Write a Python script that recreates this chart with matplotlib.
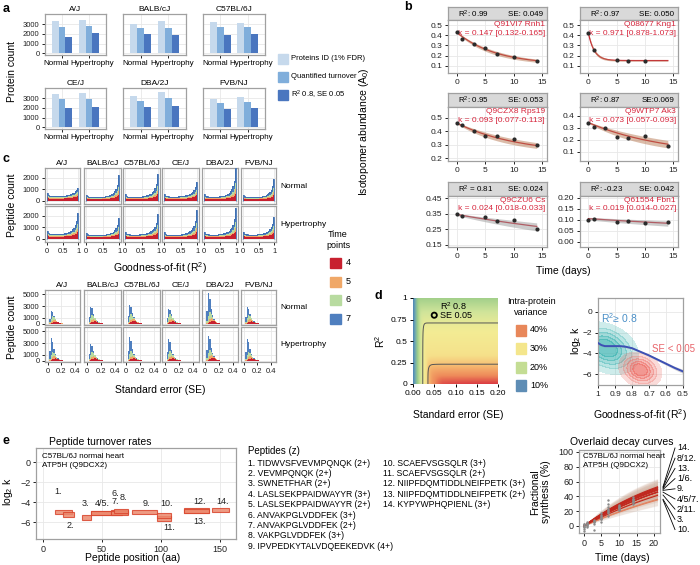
import numpy as np
import matplotlib
matplotlib.use('Agg')
import matplotlib.pyplot as plt
from matplotlib.colors import LinearSegmentedColormap, to_rgba
from matplotlib.patches import Rectangle
from matplotlib.lines import Line2D

plt.rcParams['font.family'] = ['Liberation Sans', 'DejaVu Sans']
plt.rcParams['mathtext.default'] = 'regular'

# ======================= DATA =======================
strains = ['A/J', 'BALB/cJ', 'C57BL/6J', 'CE/J', 'DBA/2J', 'FVB/NJ']
conditions = ['Normal', 'Hypertrophy']

# ---- a: protein counts [strain][condition]
proteins_id = [[3300, 3400], [3050, 3300], [3200, 3100], [3450, 3500], [3200, 3600], [2900, 3100]]
quantified_turnover = [[2700, 2850], [2600, 2650], [2700, 2700], [2900, 2900], [2750, 3000], [2550, 2650]]
filtered_r2_se = [[1700, 2050], [1950, 1900], [1900, 2000], [2000, 2050], [2100, 2150], [1900, 1950]]
a_series_labels = ['Proteins ID (1% FDR)', 'Quantified turnover', 'R$^2$ 0.8, SE 0.05']

# ---- b: example decay fits
b_protein = ['Q91VI7 Rnh1', 'Q08677 Kng1', 'Q9CZX8 Rps19', 'Q9WTP7 Ak3', 'Q9CZU6 Cs', 'Q61554 Fbn1']
b_r2_text = ['R$^2$: 0.99', 'R$^2$: 0.97', 'R$^2$: 0.95', 'R$^2$: 0.87', 'R$^2$ = 0.81', 'R$^2$: -0.23']
b_se_text = ['SE: 0.049', 'SE: 0.050', 'SE: 0.053', 'SE:0.069', 'SE: 0.024', 'SE: 0.042']
b_k = [0.147, 0.971, 0.093, 0.073, 0.024, 0.019]
b_k_lo = [0.132, 0.878, 0.077, 0.057, 0.018, 0.014]
b_k_hi = [0.165, 1.073, 0.113, 0.093, 0.033, 0.027]
b_a0 = [0.43, 0.418, 0.46, 0.345, 0.345, 0.106]
b_plateau = [0.11, 0.152, 0.23, 0.064, 0.077, 0.016]
b_times = [[0, 1, 3, 5, 7, 10, 14], [0, 1, 5, 7, 10], [0, 1, 3, 5, 7, 10, 14],
           [0, 1, 3, 5, 7, 10, 14], [0, 1, 5, 7, 10, 14], [0, 1, 5, 7, 10, 14]]
b_values = [[0.43, 0.365, 0.31, 0.277, 0.215, 0.19, 0.146],
            [0.418, 0.255, 0.162, 0.152, 0.152],
            [0.46, 0.445, 0.40, 0.36, 0.365, 0.34, 0.295],
            [0.344, 0.31, 0.297, 0.228, 0.214, 0.236, 0.153],
            [0.348, 0.337, 0.326, 0.30, 0.307, 0.25],
            [0.102, 0.103, 0.092, 0.096, 0.088, 0.092]]
b_ylims = [(0.03, 0.55), (0.03, 0.55), (0.178, 0.578), (0.025, 0.475), (0.137, 0.463), (-0.023, 0.209)]
b_yticks = [[0.1, 0.2, 0.3, 0.4, 0.5], [0.1, 0.2, 0.3, 0.4, 0.5], [0.2, 0.3, 0.4, 0.5],
            [0.1, 0.2, 0.3, 0.4], [0.15, 0.25, 0.35, 0.45], [0.0, 0.05, 0.10, 0.15, 0.20]]

# ---- c: peptide count histograms (time points 4,5,6,7)
time_points = ['4', '5', '6', '7']
r2_base_profile = [1.6, 1.2, 1.05, 1.0, 0.98, 0.97, 0.97, 0.97, 0.98, 0.98, 0.99, 1.0, 1.02,
                   1.04, 1.07, 1.1, 1.14, 1.2, 1.26, 1.34, 1.44, 1.56, 1.7, 1.85, 1.9]
r2_rise_profile = [0, 0, 0, 0, 0, 0, 0, 0, 0, 0, 0, 0, 0.01, 0.015, 0.02, 0.03, 0.04, 0.055,
                   0.075, 0.1, 0.14, 0.2, 0.3, 0.5, 1.0]
r2_layer_base_frac = [0.45, 0.15, 0.15, 0.25]
r2_layer_rise_frac = [0.15, 0.12, 0.2, 0.53]
r2_baseline = [[420, 330, 350, 380, 360, 320], [420, 320, 380, 350, 380, 380]]
r2_peak = [[1150, 2250, 2350, 1650, 2850, 1950], [2300, 1800, 2150, 2550, 2700, 1950]]

se_profile_4 = [0, 0.1, 0.3, 0.6, 0.9, 1.0, 0.85, 0.65, 0.45, 0.3, 0.2, 0.12, 0.08, 0.05,
                0.03, 0.02, 0.01, 0, 0, 0, 0, 0, 0, 0, 0]
se_profile_5 = [0, 0.15, 0.5, 0.9, 1.0, 0.65, 0.35, 0.18, 0.08, 0.04, 0.02, 0.01, 0, 0, 0,
                0, 0, 0, 0, 0, 0, 0, 0, 0, 0]
se_profile_6 = [0, 0.3, 0.8, 1.0, 0.55, 0.25, 0.1, 0.04, 0.02, 0.01, 0, 0, 0, 0, 0, 0, 0,
                0, 0, 0, 0, 0, 0, 0, 0]
se_profile_7 = [0, 0.45, 1.0, 0.6, 0.22, 0.08, 0.03, 0.01, 0, 0, 0, 0, 0, 0, 0, 0, 0, 0,
                0, 0, 0, 0, 0, 0, 0]
se_layer_peaks = [
    [[400, 350, 700, 1300], [450, 400, 900, 1800], [500, 450, 900, 2000],
     [450, 400, 1000, 1300], [500, 500, 1200, 3800], [450, 400, 900, 1700]],
    [[450, 400, 900, 2800], [450, 400, 900, 1700], [450, 400, 1000, 2800],
     [450, 400, 1000, 2500], [500, 500, 1100, 2900], [450, 450, 900, 2600]]]

# ---- d: intra-protein variance surface profiles
var_se_pts = [0, 0.004, 0.008, 0.013, 0.018, 0.023, 0.029, 0.035, 0.045, 0.07, 0.2]
var_se_profile = [8, 11, 15, 19.5, 23.5, 26.5, 31, 35.5, 39, 44, 50]
var_r2_pts = [0, 0.1, 0.23, 0.4, 0.6, 0.71, 0.85, 1.0]
var_r2_profile = [44, 40, 35.5, 31.5, 28.5, 26.5, 22.5, 18]
var_legend = ['40%', '30%', '20%', '10%']

trend_r2 = [1.0, 0.98, 0.96, 0.93, 0.9, 0.87, 0.84, 0.8, 0.75, 0.7, 0.65, 0.6, 0.55, 0.5]
trend_log2k = [-3.0, -3.2, -3.3, -3.3, -3.3, -3.3, -3.35, -3.5, -3.85, -4.2, -4.6, -5.0, -5.4, -5.75]
trend_ci = [0.15, 0.1, 0.08, 0.08, 0.08, 0.08, 0.08, 0.08, 0.09, 0.1, 0.12, 0.14, 0.16, 0.2]
# density clusters: (centre R2, centre log2k, sd R2, sd log2k, rho)
cluster_r2_high = (0.95, -3.5, 0.075, 1.0, 0.3)
cluster_se_low = (0.752, -5.6, 0.05, 0.68, 0.2)

# ---- e: ATP5H peptides
pep_start = [10, 17, 33, 41, 41, 58, 58, 60, 76, 97, 97, 120, 120, 144]
pep_end = [25, 26, 41, 67, 67, 72, 72, 72, 97, 109, 109, 141, 141, 158]
pep_log2k = [-4.95, -5.25, -5.55, -5.1, -5.1, -4.95, -5.1, -4.85, -5.0, -5.6, -5.3, -4.85, -4.9, -4.8]
pep_half = [0.2, 0.22, 0.25, 0.2, 0.2, 0.2, 0.2, 0.2, 0.2, 0.25, 0.25, 0.22, 0.22, 0.2]
pep_log2k_ci = [0.45] * 14
pep_names = ['TIDWVSFVEVMPQNQK (2+)', 'VEVMPQNQK (2+)', 'SWNETFHAR (2+)',
             'LASLSEKPPAIDWAYYR (3+)', 'LASLSEKPPAIDWAYYR (2+)', 'ANVAKPGLVDDFEK (3+)',
             'ANVAKPGLVDDFEK (2+)', 'VAKPGLVDDFEK (3+)', 'IPVPEDKYTALVDQEEKEDVK (4+)',
             'SCAEFVSGSQLR (3+)', 'SCAEFVSGSQLR (2+)', 'NIIPFDQMTIDDLNEIFPETK (3+)',
             'NIIPFDQMTIDDLNEIFPETK (2+)', 'KYPYWPHQPIENL (3+)']
pep_label_text = ['1.', '2.', '3.', '4/5.', '6.', '7.', '8.', '9.', '10.', '11.', '12.', '13.', '14.']
pep_label_x = [13, 23, 36, 50, 61, 61, 68, 88, 105, 107, 133, 133, 153]
pep_label_y = [-3.0, -6.3, -4.2, -4.2, -3.1, -4.0, -3.6, -4.1, -4.1, -6.5, -3.9, -6.0, -3.9]
fan_groups = ['14.', '8/12.', '13.', '1/6.', '9.', '4/5/7.', '2/11.', '3.', '10.']
fan_members = [[13], [7, 11], [12], [0, 5], [8], [3, 4, 6], [1, 10], [2], [9]]
obs_t = [0] * 8 + [1] * 8 + [3] * 6 + [5] * 8 + [7] * 9 + [10] * 8 + [14] * 8
obs_fs = [-7, -4, -2, -1, 0, 1, 2, 3,
          0, 1, 2, 3, 4, 5, -1, 2,
          -5, 3, 5, 6, 7, 8,
          6, 9, 11, 13, 15, 17, 10, 12,
          14, 17, 20, 23, 26, 30, 35, 19, 22,
          21, 23, 25, 27, 29, 24, 26, 22,
          30, 33, 35, 37, 39, 36, 34, 32]

# ======================= LAYOUT HELPERS =======================
W, H = 700, 565
fig = plt.figure(figsize=(7, 5.65), dpi=100)


def add_ax(x0, y0, x1, y1):
    return fig.add_axes([x0 / W, 1 - y1 / H, (x1 - x0) / W, (y1 - y0) / H])


def ftext(x, y, s, **kw):
    kw.setdefault('fontsize', 7)
    kw.setdefault('ha', 'center')
    kw.setdefault('va', 'center')
    fig.text(x / W, 1 - y / H, s, **kw)


def style_ax(ax, fs=5.5):
    ax.set_facecolor('white')
    for s in ax.spines.values():
        s.set_color('#a0a0a0')
        s.set_linewidth(0.9)
    ax.grid(True, color='#e8e8e8', lw=0.6)
    ax.set_axisbelow(True)
    ax.tick_params(axis='both', length=2.5, width=0.7, colors='#222222', labelsize=fs, pad=1.5)


TP_COLORS = ['#c8202f', '#f0a868', '#b8dba0', '#4f7fbf']

# ======================= PANEL A =======================
a_cols = [(45, 106), (123, 186), (203, 265)]
a_rows = [(14, 55), (88, 129)]
a_colors = ['#c6d9ec', '#80aedb', '#4a76bf']
a_series = [proteins_id, quantified_turnover, filtered_r2_se]
for i, s in enumerate(strains):
    r, c = divmod(i, 3)
    ax = add_ax(a_cols[c][0], a_rows[r][0], a_cols[c][1], a_rows[r][1])
    style_ax(ax)
    xs = np.arange(1, 3)
    for j, (series, col) in enumerate(zip(a_series, a_colors)):
        ax.bar(xs + (j - 1) * 0.25, series[i], width=0.25, color=col, zorder=2)
    ax.set_xlim(0.36, 2.64)
    ax.set_ylim(-180, 4050)
    ax.set_yticks([0, 1000, 2000, 3000])
    if c != 0:
        ax.tick_params(axis='y', left=False, labelleft=False)
    ax.set_xticks([1, 2])
    ax.set_xticklabels([])
    ax.text(0.19, -0.2, conditions[0], transform=ax.transAxes, ha='center', va='center', fontsize=5.8)
    ax.text(0.78, -0.2, conditions[1], transform=ax.transAxes, ha='center', va='center', fontsize=5.8)
    ax.set_title(s, fontsize=6, pad=2)
ftext(12, 72, 'Protein count', rotation=90, fontsize=7.5)
for j, (lab, col) in enumerate(zip(a_series_labels, a_colors)):
    yc = 59 + j * 18
    fig.patches.append(Rectangle((278 / W, 1 - (yc + 5) / H), 10 / W, 10 / H,
                                 transform=fig.transFigure, color=col, figure=fig))
    ftext(291, yc, lab, ha='left', fontsize=5.5)

# ======================= PANEL B =======================
b_cols = [(448, 547), (580, 678)]
b_rows = [(7, 20, 73), (93, 107, 161), (182, 196, 247)]
b_ribbon = ['#b87a55', '#b87a55', '#b87a55', '#b87a55', '#9a9a9a', '#9a9a9a']
for i in range(6):
    r, c = divmod(i, 2)
    sy0, ay0, ay1 = b_rows[r]
    x0, x1 = b_cols[c]
    sax = add_ax(x0, sy0, x1, ay0)
    sax.set_facecolor('#d9d9d9')
    sax.set_xticks([])
    sax.set_yticks([])
    for sp in sax.spines.values():
        sp.set_color('#a0a0a0')
        sp.set_linewidth(0.9)
    sax.text(0.1, 0.45, b_r2_text[i], transform=sax.transAxes, fontsize=5.8, va='center', ha='left')
    sax.text(0.96, 0.45, b_se_text[i], transform=sax.transAxes, fontsize=5.8, va='center', ha='right')
    ax = add_ax(x0, ay0, x1, ay1)
    style_ax(ax, fs=6)
    tt = np.linspace(0, 14, 200)
    curve = b_plateau[i] + (b_a0[i] - b_plateau[i]) * np.exp(-b_k[i] * tt)
    lo = b_plateau[i] + (b_a0[i] - b_plateau[i]) * np.exp(-b_k_hi[i] * tt)
    hi = b_plateau[i] + (b_a0[i] - b_plateau[i]) * np.exp(-b_k_lo[i] * tt)
    ax.plot(tt, curve, color='#c8202f', lw=0.9, zorder=3)
    ax.fill_between(tt, lo - 0.006, hi + 0.006, color=b_ribbon[i], alpha=0.5, lw=0, zorder=4)
    ax.scatter(b_times[i], b_values[i], s=9, color='#2b2b2b', zorder=5, lw=0)
    ax.set_xlim(-1.5, 15.8)
    ax.set_xticks([0, 5, 10, 15])
    ax.set_ylim(*b_ylims[i])
    ax.set_yticks(b_yticks[i])
    if i == 5:
        ax.set_yticklabels(['0.00', '0.05', '0.10', '0.15', '0.20'])
    elif i == 4:
        ax.set_yticklabels(['0.15', '0.25', '0.35', '0.45'])
    ax.text(0.98, 0.92, b_protein[i], transform=ax.transAxes, ha='right', va='center',
            fontsize=6, color='#d7263d')
    ax.text(0.98, 0.75, 'k = %.3f [%.3f-%.3f]' % (b_k[i], b_k_lo[i], b_k_hi[i]),
            transform=ax.transAxes, ha='right', va='center', fontsize=6, color='#d7263d')
ftext(364, 132, 'Isotopomer abundance (A$_0$)', rotation=90, fontsize=7.5)
ftext(563, 271, 'Time (days)', fontsize=7.5)

# ======================= PANEL C =======================
c_cols = [(45, 80), (84, 121), (123, 160), (162, 199), (202, 238), (241, 276)]
c_rows_r2 = [(168, 204), (206, 242)]
c_rows_se = [(290, 325), (327, 362)]
r2_edges = np.linspace(0, 1, 26)
se_edges = np.linspace(0, 0.5, 26)
se_profiles = [se_profile_4, se_profile_5, se_profile_6, se_profile_7]
for ci, cond in enumerate(conditions):
    for si, s in enumerate(strains):
        # R2 histogram
        ax = add_ax(c_cols[si][0], c_rows_r2[ci][0], c_cols[si][1], c_rows_r2[ci][1])
        style_ax(ax)
        base = r2_baseline[ci][si]
        rise = r2_peak[ci][si] - base * r2_base_profile[-1]
        cum = np.zeros(25)
        for L in range(4):
            layer = (base * np.array(r2_base_profile) * r2_layer_base_frac[L]
                     + rise * np.array(r2_rise_profile) * r2_layer_rise_frac[L])
            ax.stairs(cum + layer, r2_edges, baseline=cum.copy(), fill=True,
                      color=TP_COLORS[L], lw=0, zorder=2)
            cum = cum + layer
        ax.stairs(cum, r2_edges, color='#3d6fb3', lw=0.6, zorder=3)
        ax.set_xlim(-0.05, 1.05)
        ax.set_ylim(-280, 2870)
        ax.set_xticks([0, 0.5, 1])
        ax.set_xticklabels(['0', '0.5', '1'])
        ax.set_yticks([0, 1000, 2000])
        if si != 0:
            ax.tick_params(axis='y', left=False, labelleft=False)
        if ci == 0:
            ax.tick_params(axis='x', bottom=False, labelbottom=False)
            ax.set_title(s, fontsize=6, pad=2)
        # SE histogram
        ax = add_ax(c_cols[si][0], c_rows_se[ci][0], c_cols[si][1], c_rows_se[ci][1])
        style_ax(ax)
        cum = np.zeros(25)
        for L in range(4):
            layer = np.array(se_profiles[L]) * se_layer_peaks[ci][si][L]
            ax.stairs(cum + layer, se_edges, baseline=cum.copy(), fill=True,
                      color=TP_COLORS[L], lw=0, zorder=2)
            cum = cum + layer
        ax.set_xlim(-0.045, 0.48)
        ax.set_ylim(-170, 5670)
        ax.set_xticks([0, 0.2, 0.4])
        ax.set_xticklabels(['0', '0.2', '0.4'])
        ax.set_yticks([0, 1000, 3000, 5000])
        if si != 0:
            ax.tick_params(axis='y', left=False, labelleft=False)
        if ci == 0:
            ax.tick_params(axis='x', bottom=False, labelbottom=False)
            ax.set_title(s, fontsize=6, pad=2)
    ftext(280, (c_rows_r2[ci][0] + c_rows_r2[ci][1]) / 2, cond, ha='left', fontsize=6)
    ftext(280, (c_rows_se[ci][0] + c_rows_se[ci][1]) / 2, cond, ha='left', fontsize=6)
ftext(12, 205, 'Peptide count', rotation=90, fontsize=7.5)
ftext(12, 327, 'Peptide count', rotation=90, fontsize=7.5)
ftext(160, 268, 'Goodness-of-fit (R$^2$)', fontsize=7.5)
ftext(160, 390, 'Standard error (SE)', fontsize=7.5)
ftext(338, 240, 'Time\npoints', fontsize=6.5, linespacing=1.3)
for L, tp in enumerate(time_points):
    yc = 263 + L * 18.5
    fig.patches.append(Rectangle((330 / W, 1 - (yc + 5) / H), 11 / W, 10 / H,
                                 transform=fig.transFigure, color=TP_COLORS[L], figure=fig))
    ftext(346, yc, tp, ha='left', fontsize=6.5)

# ======================= PANEL D =======================
ax = add_ax(413, 298, 498, 384)
sg = np.linspace(0, 0.2, 300)
rg = np.linspace(0, 1, 300)
fse = np.interp(sg, var_se_pts, var_se_profile)
gr2 = np.interp(rg, var_r2_pts, var_r2_profile)
F, G = np.meshgrid(fse, gr2)
sm = 1.5
V = -sm * np.log(np.exp(-F / sm) + np.exp(-G / sm))
var_cmap = LinearSegmentedColormap.from_list('var', [
    (0.0, '#4e86b8'), (0.1, '#6fa9b0'), (0.25, '#9ccd88'), (0.4, '#d0e49a'),
    (0.55, '#f3ec94'), (0.68, '#f6e08a'), (0.77, '#f5b56e'), (0.87, '#ee8a5a'),
    (1.0, '#d5263c')])
ax.imshow(V, extent=[0, 0.2, 0, 1], origin='lower', aspect='auto', cmap=var_cmap,
          vmin=8, vmax=45, interpolation='bilinear')
ax.contour(sg, rg, V, levels=[26.5, 35.5], colors='#555555', linewidths=0.7)
for sp in ax.spines.values():
    sp.set_visible(False)
ax.tick_params(length=2.5, width=0.7, labelsize=6, pad=1.5)
ax.set_xticks([0, 0.05, 0.1, 0.15, 0.2])
ax.set_xticklabels(['0.00', '0.05', '0.10', '0.15', '0.20'])
ax.set_yticks([0, 0.25, 0.5, 0.75, 1])
ax.set_yticklabels(['0', '0.25', '0.5', '0.75', '1'])
ax.set_xlim(0, 0.2)
ax.set_ylim(0, 1)
ax.scatter([0.05], [0.8], s=14, facecolor='none', edgecolor='black', lw=1.3, zorder=5)
ax.text(0.063, 0.91, 'R$^2$ 0.8', fontsize=6.5, va='center', ha='left')
ax.text(0.063, 0.8, 'SE 0.05', fontsize=6.5, va='center', ha='left')
ftext(380, 341, 'R$^2$', rotation=90, fontsize=7.5)
ftext(458, 415, 'Standard error (SE)', fontsize=7.5)
ftext(531, 307, 'Intra-protein\nvariance', fontsize=6.5, linespacing=1.3)
leg_cols = ['#e8875a', '#f4e68c', '#c4dd94', '#5e8db5']
for j, (lab, col) in enumerate(zip(var_legend, leg_cols)):
    yc = 330 + j * 18.5
    fig.patches.append(Rectangle((516 / W, 1 - (yc + 5.5) / H), 10 / W, 11 / H,
                                 transform=fig.transFigure, color=col, figure=fig))
    ftext(530, yc, lab, ha='left', fontsize=6.5)

ax = add_ax(598, 298, 683, 385)
style_ax(ax, fs=6)
xg = np.linspace(0.5, 1.0, 250)
yg = np.linspace(-7.1, 1.4, 250)
XX, YY = np.meshgrid(xg, yg)
for (cx, cy, sx, sy, rho), col in zip([cluster_r2_high, cluster_se_low], ['#3fb5b3', '#ee7068']):
    zx = (XX - cx) / sx
    zy = (YY - cy) / sy
    Z = np.exp(-0.5 * (zx ** 2 - 2 * rho * zx * zy + zy ** 2) / (1 - rho ** 2))
    levels = [0.04, 0.15, 0.3, 0.5, 0.7, 1.01]
    cols = [to_rgba(col, a) for a in [0.25, 0.36, 0.48, 0.6, 0.72]]
    ax.contourf(XX, YY, Z, levels=levels, colors=cols, zorder=2)
tr = np.array(trend_r2)
tk = np.array(trend_log2k)
tc = np.array(trend_ci)
ax.fill_between(tr, tk - tc, tk + tc, color='#999999', alpha=0.4, lw=0, zorder=3)
ax.plot(tr, tk, color='#3d50b5', lw=1.4, zorder=4)
ax.set_xlim(1.0, 0.5)
ax.set_ylim(-7.06, 1.35)
ax.set_xticks([1, 0.9, 0.8, 0.7, 0.6, 0.5])
ax.set_xticklabels(['1', '0.9', '0.8', '0.7', '0.6', '0.5'])
ax.set_yticks([0, -2, -4, -6])
ax.set_yticklabels(['0', '\u22122', '\u22124', '\u22126'])
ax.text(0.985, -0.55, 'R$^2$\u2265 0.8', color='#4a8fc7', fontsize=7.5, ha='left', va='center')
ax.text(0.685, -3.55, 'SE < 0.05', color='#e8646a', fontsize=7, ha='left', va='center',
        clip_on=False)
ftext(576, 341, 'log$_2$ k', rotation=90, fontsize=7.5)
ftext(640, 415, 'Goodness-of-fit (R$^2$)', fontsize=7.5)

# ======================= PANEL E =======================
ax = add_ax(36, 448, 236, 539)
style_ax(ax, fs=6.5)
for i in range(14):
    ax.add_patch(Rectangle((pep_start[i], pep_log2k[i] - pep_half[i]),
                           pep_end[i] - pep_start[i], 2 * pep_half[i],
                           facecolor='#ec8a6e', edgecolor='#d9462e', lw=0.8, alpha=0.85, zorder=3))
for t, x, y in zip(pep_label_text, pep_label_x, pep_label_y):
    ax.text(x, y, t, fontsize=6.5, ha='center', va='center', color='#222222')
ax.set_xlim(-6, 164)
ax.set_ylim(-7.7, 1.4)
ax.set_xticks([0, 50, 100, 150])
ax.set_yticks([0, -2, -4, -6])
ax.set_yticklabels(['0', '\u22122', '\u22124', '\u22126'])
ax.text(0.03, 0.95, 'C57BL/6J normal heart\nATP5H (Q9DCX2)', transform=ax.transAxes,
        fontsize=5.8, ha='left', va='top', linespacing=1.4)
ftext(100, 442, 'Peptide turnover rates', fontsize=7.5)
ftext(8, 492, 'log$_2$ k', rotation=90, fontsize=7.5)
ftext(133, 558, 'Peptide position (aa)', fontsize=7.5)

ftext(248, 451, 'Peptides (z)', ha='left', fontsize=7)
for i, name in enumerate(pep_names):
    if i < 9:
        ftext(248, 463 + i * 10.4, '%d. %s' % (i + 1, name), ha='left', fontsize=6.2)
    else:
        ftext(383, 463 + (i - 9) * 10.4, '%d. %s' % (i + 1, name), ha='left', fontsize=6.2)

ax = add_ax(579, 450, 660, 533)
style_ax(ax, fs=6.5)
tt = np.linspace(0, 21, 200)
for i in range(14):
    klo = 2.0 ** (pep_log2k[i] - pep_log2k_ci[i])
    khi = 2.0 ** (pep_log2k[i] + pep_log2k_ci[i])
    ax.fill_between(tt, 100 * (1 - np.exp(-klo * tt)), 100 * (1 - np.exp(-khi * tt)),
                    color='#cfae9c', alpha=0.18, lw=0, zorder=2)
for i in range(14):
    k = 2.0 ** pep_log2k[i]
    col = '#e38462' if i in (1, 2, 9) else '#c0281e'
    ax.plot(tt, 100 * (1 - np.exp(-k * tt)), color=col, lw=0.8, zorder=3)
ax.scatter(obs_t, obs_fs, s=3, color='#8a8a8a', zorder=4, lw=0)
ax.set_xlim(-1.4, 21.7)
ax.set_ylim(-9.5, 102.7)
ax.set_xticks([0, 5, 10, 15, 20])
ax.set_yticks([0, 20, 40, 60, 80, 100])
ax.text(0.05, 0.96, 'C57BL/6J normal heart\nATP5H (Q9DCX2)', transform=ax.transAxes,
        fontsize=5.8, ha='left', va='top', linespacing=1.4)
ftext(622, 442, 'Overlaid decay curves', fontsize=7.5)
ftext(622, 558, 'Time (days)', fontsize=7.5)
ftext(541, 492, 'Fractional\nsynthesis (%)', rotation=90, fontsize=7.5, linespacing=1.1)
y0d, y1d = -9.5, 102.7
for g, (lab, mem) in enumerate(zip(fan_groups, fan_members)):
    endv = np.mean([100 * (1 - np.exp(-(2.0 ** pep_log2k[m]) * 21)) for m in mem])
    ypx = 533 - (endv - y0d) / (y1d - y0d) * 83
    ly = 448 + g * 10.2
    fig.add_artist(Line2D([663 / W, 675 / W], [1 - ypx / H, 1 - ly / H], color='black', lw=0.6))
    ftext(677, ly, lab, ha='left', fontsize=6.5)

# panel letters
for lab, x, y in [('a', 6, 9), ('b', 408, 7), ('c', 6, 159), ('d', 378, 296), ('e', 6, 441)]:
    ftext(x, y, lab, fontsize=9, fontweight='bold')

fig.savefig('out.png', dpi=100)
